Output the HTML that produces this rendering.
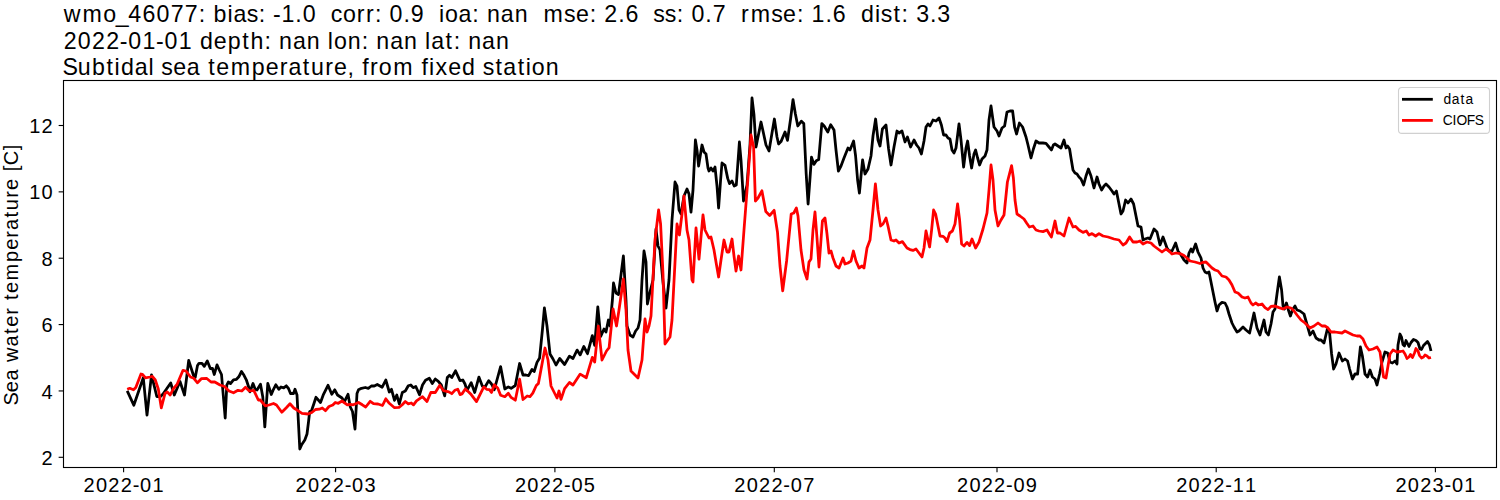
<!DOCTYPE html>
<html><head><meta charset="utf-8"><title>wmo_46077</title>
<style>html,body{margin:0;padding:0;background:#fff;width:1500px;height:500px;overflow:hidden}
svg text{font-family:'Liberation Sans', sans-serif;fill:#000}</style></head>
<body>
<svg width="1500" height="500" viewBox="0 0 1500 500" style="display:block">
<rect x="0" y="0" width="1500" height="500" fill="#fff"/>
<text x="63.80 82.43 103.26 115.66 128.24 142.38 156.52 170.65 184.79 198.83 213.46 227.47 233.49 246.74 258.85 273.02 281.52 295.34 302.72 330.67 342.92 356.87 366.01 374.96 389.61 403.43 410.81 438.96 444.97 458.58 472.36 486.98 500.82 514.68 543.46 563.93 575.90 589.71 604.36 618.18 625.56 653.19 664.77 676.87 691.52 705.34 712.72 741.07 750.66 771.14 783.11 796.91 811.56 825.38 832.76 861.01 875.02 880.67 893.39 901.49 916.14 929.96 937.34" y="22.0" font-size="23.2">wmo_46077:bias:-1.0corr:0.9ioa:nanmse:2.6ss:0.7rmse:1.6dist:3.3</text>
<text x="63.72 77.86 91.99 106.13 119.79 128.29 142.42 156.08 164.58 178.71 199.90 213.78 227.67 242.30 250.48 264.49 279.11 292.96 306.81 327.87 333.88 347.72 361.73 376.35 390.20 404.05 425.12 431.14 445.53 453.63 468.25 482.10 495.95" y="48.6" font-size="23.2">2022-01-01depth:nanlon:nanlat:nan</text>
<text x="62.42 77.79 91.89 106.52 114.61 120.88 134.74 148.51 161.22 173.20 186.84 208.29 216.26 230.70 251.79 265.68 279.67 288.45 302.85 311.02 325.22 334.03 347.62 362.33 369.97 378.75 393.15 421.59 429.04 435.47 448.23 462.12 482.68 495.39 503.33 517.72 525.81 531.82 545.66" y="75.2" font-size="23.2">Subtidalseatemperature,fromfixedstation</text>
<polyline points="127.2,390.8 133.8,405.2 143.3,377.8 147.0,415.2 151.5,374.8 156.8,396.5 160.5,396.5 163.0,394.0 170.7,383.0 174.3,395.0 180.0,381.5 184.5,395.0 188.7,360.5 193.5,375.5 195.2,377.5 197.5,365.5 199.0,363.3 202.0,363.3 204.3,366.3 207.3,361.0 210.3,368.5 212.5,368.5 214.3,374.5 217.0,364.8 219.3,370.0 221.5,374.5 225.2,418.0 226.8,385.0 228.3,382.0 230.5,383.5 233.5,379.8 236.5,379.3 238.8,376.8 241.5,371.5 244.0,375.3 246.3,379.8 248.5,386.5 250.0,391.8 253.0,383.5 255.3,389.5 257.0,390.0 260.5,384.3 262.8,397.0 264.8,426.8 267.8,383.3 271.3,394.5 273.5,389.3 275.8,384.8 278.8,389.3 281.0,387.0 283.7,387.8 286.3,385.8 288.5,388.5 290.5,393.5 293.5,393.5 295.0,389.3 297.0,395.0 299.8,449.0 301.8,444.5 304.8,440.0 307.0,434.0 308.5,422.0 309.7,411.5 311.5,410.8 313.8,404.0 316.0,397.3 320.5,402.5 323.5,394.3 328.0,385.3 331.8,394.3 334.8,389.8 337.5,395.0 342.0,398.0 344.3,401.8 348.0,394.3 350.3,407.0 352.5,411.5 355.0,429.0 357.0,393.5 358.5,389.8 361.5,388.3 365.3,387.5 368.3,388.3 371.3,386.0 374.3,386.0 377.3,384.5 382.2,387.2 385.8,380.0 389.3,392.0 391.5,389.3 394.5,400.3 396.8,395.0 399.3,404.0 402.3,392.5 405.3,391.0 408.3,385.8 410.8,385.0 413.2,387.7 415.8,386.5 419.5,394.8 422.5,385.0 425.5,380.2 429.3,378.3 432.3,383.5 435.3,379.0 438.3,381.3 441.3,385.0 444.7,395.8 447.3,377.5 449.5,375.3 451.8,377.5 455.5,370.8 460.0,380.6 462.8,380.0 465.0,384.0 467.0,390.4 471.2,382.7 474.7,392.5 478.9,377.1 482.4,386.2 485.0,387.0 488.7,380.6 491.5,384.0 494.3,389.7 497.5,378.0 500.6,366.6 504.8,389.0 508.3,386.9 511.1,388.3 515.3,385.5 519.6,363.5 523.0,375.0 525.8,375.0 528.6,375.7 532.0,369.4 534.2,371.5 537.0,362.4 539.6,358.0 542.4,330.0 544.4,308.0 547.0,326.0 550.0,354.0 553.0,359.0 556.0,365.0 559.7,358.5 564.6,364.5 569.4,356.1 573.0,358.5 577.1,350.1 580.2,354.9 583.8,346.5 587.5,353.7 592.3,335.7 594.7,345.3 597.8,306.8 600.7,336.5 604.0,329.0 606.0,332.0 608.4,320.0 610.0,326.0 612.4,300.0 613.5,283.0 616.0,293.0 618.5,294.5 623.4,256.0 626.0,300.0 627.0,326.0 630.0,335.0 633.0,337.0 635.6,331.0 638.0,328.0 640.0,320.0 642.0,280.0 644.0,251.0 646.0,262.0 647.4,304.0 650.0,292.0 653.0,280.0 656.0,229.0 658.0,246.0 660.0,250.0 663.0,282.0 666.0,308.0 669.0,280.0 672.0,220.0 675.0,182.0 677.0,186.0 679.0,210.0 681.0,214.0 684.0,196.0 687.0,189.0 689.0,194.0 691.0,212.0 693.0,190.0 695.4,140.0 697.0,150.0 698.6,166.0 702.0,145.0 704.0,152.0 706.0,154.0 708.0,168.0 709.0,171.0 711.0,168.0 713.0,171.0 715.0,167.0 717.0,186.0 718.6,208.0 720.6,180.0 722.0,163.0 725.0,165.4 727.7,178.4 729.5,183.6 732.0,181.0 734.2,186.0 736.3,185.0 739.4,142.0 741.0,160.0 743.5,201.0 747.0,185.0 750.0,145.0 752.0,98.0 754.0,115.0 756.0,147.0 761.0,122.0 763.0,131.0 766.0,145.0 769.0,151.0 772.0,133.0 774.4,119.0 777.0,137.0 778.6,144.0 781.0,141.6 785.0,132.0 787.5,140.4 790.6,118.8 793.0,99.6 795.4,114.0 797.8,126.0 801.4,121.2 803.8,123.6 806.2,174.0 808.1,204.0 809.8,181.2 811.5,157.2 813.9,164.4 816.3,160.8 818.7,159.6 821.8,123.6 824.2,126.0 827.8,132.0 830.7,124.8 834.0,130.0 836.0,150.0 838.4,171.0 841.0,166.0 844.0,158.0 848.0,148.0 850.0,150.0 853.6,141.0 855.6,156.0 857.6,180.0 859.4,193.0 861.0,176.0 862.6,160.0 865.0,174.0 868.0,169.0 871.0,156.0 873.0,136.0 875.6,119.0 878.0,140.0 880.0,146.0 882.4,129.0 886.0,125.0 888.6,149.0 891.0,165.0 894.0,147.0 897.0,131.0 899.0,133.0 902.0,131.0 905.0,142.0 907.4,137.0 910.6,147.0 914.0,140.0 916.6,145.0 919.0,148.0 921.4,154.0 924.0,141.0 926.0,127.0 928.0,124.0 930.0,126.0 933.0,120.0 936.0,121.0 939.0,118.0 941.4,125.0 943.6,135.0 946.0,135.0 948.0,138.0 950.0,139.0 952.0,150.0 954.0,153.0 956.0,148.0 959.0,124.0 961.0,140.0 963.6,167.0 966.0,148.0 967.6,141.0 969.6,156.0 971.6,168.0 974.0,154.0 975.6,150.0 977.6,158.0 979.6,165.0 982.0,159.0 985.0,156.0 987.0,150.0 989.0,120.0 991.0,106.0 992.4,116.0 994.0,127.0 997.0,131.0 999.0,136.0 1002.0,128.0 1004.6,126.0 1007.0,112.0 1010.0,111.0 1012.6,111.0 1014.6,127.0 1016.6,134.0 1019.4,123.0 1022.6,127.0 1026.0,137.0 1028.0,145.0 1031.0,158.0 1033.4,149.0 1036.0,141.0 1039.0,143.0 1043.0,143.0 1046.0,143.4 1049.0,147.0 1051.4,150.0 1053.4,145.0 1055.0,144.0 1058.0,146.0 1061.0,148.0 1064.0,140.0 1066.0,148.0 1067.6,146.0 1069.6,149.0 1071.0,158.0 1073.0,170.0 1075.0,173.0 1077.0,174.0 1079.0,177.0 1081.0,179.0 1083.6,185.0 1086.0,176.0 1088.4,169.0 1091.0,176.0 1094.0,188.0 1097.0,177.0 1099.0,184.0 1101.6,190.0 1104.0,186.0 1106.0,184.0 1109.0,187.0 1112.0,191.0 1114.0,194.0 1116.4,191.0 1119.0,204.0 1121.0,214.0 1123.0,211.0 1125.6,200.0 1128.0,203.0 1131.0,199.0 1133.6,204.0 1136.0,216.0 1138.0,226.0 1141.0,227.0 1143.0,240.0 1145.0,239.0 1148.0,238.0 1150.0,239.0 1154.0,229.0 1157.0,232.0 1160.0,245.0 1163.0,237.0 1167.0,248.0 1169.0,251.0 1172.0,251.0 1175.6,243.0 1178.0,251.0 1181.0,255.0 1184.0,260.0 1187.0,263.0 1189.0,253.0 1191.0,249.0 1192.6,252.0 1195.6,244.0 1198.0,252.0 1201.0,258.0 1203.0,268.0 1205.0,272.0 1207.0,273.0 1209.0,272.0 1213.0,292.0 1215.0,302.0 1217.0,311.0 1219.0,305.0 1222.0,302.4 1225.0,303.0 1227.0,307.0 1229.0,314.0 1232.0,323.0 1234.0,327.0 1237.0,332.0 1239.0,331.0 1243.0,327.0 1246.0,330.0 1249.6,333.0 1254.0,313.0 1257.0,328.0 1260.0,335.0 1264.0,320.0 1266.0,332.0 1268.4,335.0 1271.0,324.0 1273.0,312.0 1275.0,309.0 1277.0,294.0 1279.4,277.0 1281.6,290.0 1283.0,306.0 1284.4,309.0 1286.4,303.0 1288.4,310.0 1290.4,316.0 1292.4,310.0 1295.0,306.0 1297.0,310.0 1300.0,311.0 1304.0,314.0 1308.0,328.0 1310.0,335.0 1313.0,331.0 1316.0,338.0 1319.0,340.0 1321.0,340.0 1324.0,343.0 1327.6,328.0 1329.6,333.0 1331.6,354.0 1333.6,369.0 1336.0,364.0 1339.0,353.0 1342.4,361.0 1345.0,359.0 1347.6,361.0 1349.6,369.0 1352.4,379.0 1355.0,374.0 1357.6,374.0 1360.4,347.0 1362.4,356.0 1365.0,374.0 1367.6,377.0 1370.0,370.0 1372.4,377.0 1375.0,379.0 1377.0,385.0 1379.6,374.0 1382.0,362.0 1385.0,352.0 1387.6,353.0 1390.0,362.0 1392.4,363.0 1395.0,361.0 1397.0,364.0 1398.0,345.0 1400.0,334.0 1401.5,337.0 1403.0,344.5 1404.5,346.0 1406.0,340.5 1409.0,346.5 1411.0,342.5 1413.5,339.5 1416.0,340.5 1418.0,342.5 1420.0,349.0 1421.5,349.5 1423.5,345.5 1425.5,343.5 1427.5,341.5 1429.5,345.0 1431.0,351.0" fill="none" stroke="#000" stroke-width="2.78" stroke-linejoin="round" stroke-linecap="butt"/>
<polyline points="127.2,389.3 129.8,388.3 133.5,389.8 135.8,387.5 141.0,374.0 142.5,374.3 145.5,377.8 150.0,377.0 152.3,376.3 155.3,380.0 158.3,389.0 161.3,407.8 165.0,393.5 167.3,392.0 170.2,395.0 173.2,389.0 177.0,384.5 183.0,370.3 186.0,371.0 190.5,377.0 193.8,378.3 197.5,382.8 201.3,378.7 206.5,378.3 211.0,382.0 214.8,382.0 220.0,385.0 224.5,386.5 229.0,391.0 233.5,392.8 238.0,390.3 241.8,391.0 245.5,387.3 249.3,391.0 253.8,390.3 258.3,400.0 260.0,399.8 262.0,402.0 265.3,405.8 269.0,405.0 273.5,403.5 276.5,405.0 281.8,412.2 286.3,407.7 290.0,403.8 293.8,408.0 297.5,410.3 302.0,413.3 308.0,414.0 311.8,412.5 315.5,409.5 319.3,409.2 322.3,408.0 325.5,410.7 329.0,406.5 332.8,405.0 335.3,402.5 338.3,403.3 342.0,401.0 347.3,404.8 350.3,404.3 353.3,404.8 358.5,402.5 362.3,404.8 365.7,407.0 370.2,401.3 373.5,403.7 378.0,404.0 382.5,405.5 385.8,398.8 389.3,403.3 394.5,407.7 399.0,407.3 402.0,405.0 405.3,401.5 408.3,403.8 411.3,403.0 413.5,404.8 416.5,400.8 422.5,396.7 427.0,401.5 430.8,392.5 435.3,392.5 439.8,385.3 443.5,390.7 448.8,391.8 451.8,393.7 454.8,390.3 457.8,389.2 460.0,394.6 462.0,393.9 465.3,389.0 468.4,391.8 471.2,394.6 476.5,401.6 479.6,395.3 483.8,386.9 486.6,389.3 489.4,389.7 491.5,392.5 494.3,384.8 497.8,388.3 500.6,395.3 504.8,396.7 508.3,393.2 511.1,397.4 515.3,400.2 519.6,379.2 523.0,399.5 527.2,396.0 530.0,396.7 532.8,393.2 536.3,385.5 538.4,383.4 540.0,375.0 542.4,362.0 545.0,348.0 548.0,360.0 551.0,386.0 554.0,392.0 557.0,398.0 559.0,391.0 561.0,399.4 564.6,388.6 569.4,382.5 573.0,385.0 580.2,374.1 586.3,377.7 592.3,357.3 594.7,362.1 598.3,326.1 602.0,360.0 606.5,351.0 609.1,347.7 613.1,309.0 616.5,326.0 619.0,310.0 623.4,279.0 626.0,310.0 628.0,350.0 631.0,371.0 635.0,375.0 638.0,378.0 642.0,360.0 645.0,319.0 647.0,332.0 649.0,326.0 651.0,316.0 655.0,240.0 658.6,210.0 660.6,224.0 663.0,274.0 665.0,344.0 670.0,337.0 672.0,320.0 677.0,224.0 679.4,235.0 682.0,214.0 684.0,196.0 687.0,230.0 689.0,240.0 692.0,280.0 693.0,282.0 696.0,228.0 699.0,259.0 703.0,215.0 705.0,230.0 709.0,238.0 711.0,237.0 714.0,250.0 716.0,262.0 718.6,277.0 721.0,260.0 724.0,240.0 727.0,252.0 729.0,252.0 732.0,239.0 734.0,256.0 736.0,271.0 738.6,256.0 741.0,270.0 744.0,230.0 747.6,183.0 751.0,135.0 753.6,147.0 755.4,201.0 758.0,198.0 761.9,190.8 765.8,211.6 769.7,215.5 774.1,210.3 777.5,232.3 780.0,266.0 782.7,290.8 786.6,261.0 791.2,214.0 793.8,213.0 796.4,208.0 798.0,216.0 801.0,250.0 804.0,270.0 807.0,279.0 809.0,262.0 811.0,259.0 813.0,230.0 815.0,212.0 817.0,238.0 819.0,267.0 821.0,240.0 822.4,221.0 825.0,218.0 827.0,234.0 829.0,253.0 831.0,251.0 833.0,258.0 836.0,266.0 839.0,268.0 843.0,258.0 845.0,264.0 848.0,263.0 851.0,261.0 853.4,251.0 856.0,261.0 859.0,268.0 862.0,266.0 864.0,268.0 867.0,248.0 870.0,240.0 873.0,210.0 875.4,184.0 878.0,210.0 880.6,226.0 883.0,224.0 886.0,218.0 888.0,226.0 891.0,240.0 894.0,241.0 896.0,240.0 899.0,243.0 902.4,241.6 907.0,248.0 910.0,249.6 913.0,250.4 916.0,249.0 919.0,253.0 922.0,257.0 924.0,248.0 926.0,231.0 929.6,247.0 931.6,230.0 933.6,210.0 935.6,214.0 938.0,226.0 940.0,236.0 943.0,236.4 945.0,238.0 947.0,241.6 949.6,233.0 952.4,231.0 955.0,224.0 957.6,204.0 959.6,220.0 961.6,244.0 964.0,246.0 967.0,242.4 969.6,245.6 972.0,239.0 975.6,248.0 979.0,242.0 983.0,229.0 987.0,213.0 989.0,190.0 991.0,165.0 993.0,180.0 995.0,210.0 998.0,226.0 1001.0,220.0 1004.0,215.0 1007.4,182.0 1011.6,165.6 1013.4,178.0 1015.0,200.0 1017.0,214.0 1020.0,216.0 1024.0,219.0 1026.6,223.0 1029.4,227.0 1033.0,226.0 1036.0,230.0 1039.0,231.0 1043.0,231.6 1047.0,230.0 1049.4,234.0 1051.4,237.0 1055.0,221.0 1057.4,233.0 1060.0,233.0 1064.0,236.0 1069.0,218.0 1073.0,227.0 1075.6,226.4 1079.0,230.0 1083.0,232.4 1086.4,231.0 1089.0,235.0 1092.0,233.6 1095.6,236.0 1099.0,233.6 1103.0,236.0 1108.0,237.0 1114.0,239.0 1119.0,240.0 1123.0,245.0 1126.0,243.0 1129.6,237.0 1133.0,242.0 1137.0,242.0 1140.0,241.0 1143.0,244.0 1147.0,242.0 1151.0,243.0 1154.0,246.0 1158.0,249.0 1162.0,252.0 1166.0,249.0 1169.0,251.0 1172.0,254.0 1176.0,253.0 1180.0,253.6 1184.0,255.6 1187.0,258.0 1190.0,261.0 1195.0,262.0 1200.0,263.5 1203.0,262.4 1206.0,262.0 1209.0,265.0 1212.0,268.0 1215.0,270.0 1218.0,271.0 1222.0,276.0 1226.0,277.0 1229.0,280.0 1232.0,285.0 1235.0,292.0 1238.0,293.0 1242.0,297.0 1245.0,298.0 1248.0,297.0 1251.0,303.0 1253.0,305.0 1255.6,303.0 1258.4,305.0 1262.0,304.0 1265.0,307.6 1268.0,309.6 1271.0,306.4 1275.0,306.0 1279.0,307.6 1283.0,309.0 1287.0,307.0 1291.0,308.0 1294.0,311.0 1297.0,315.0 1301.0,320.0 1305.0,323.0 1308.0,326.0 1310.0,328.0 1314.0,326.0 1318.0,323.0 1322.0,326.0 1325.0,326.0 1328.0,328.0 1331.0,332.0 1335.0,332.0 1339.0,332.6 1342.0,333.0 1345.0,331.0 1349.0,333.0 1353.0,335.0 1357.0,336.0 1360.0,336.0 1363.0,339.0 1366.0,346.0 1369.0,350.0 1373.0,349.0 1377.0,347.0 1380.0,352.0 1382.0,366.0 1383.6,377.0 1386.0,378.0 1388.0,366.0 1390.0,354.0 1393.0,350.0 1397.0,352.0 1400.5,351.5 1403.0,351.0 1405.0,354.0 1407.0,358.5 1409.0,357.0 1410.5,354.5 1412.5,357.5 1414.5,353.0 1416.0,348.5 1418.0,351.0 1419.5,355.5 1421.5,358.0 1423.5,357.0 1425.0,355.0 1427.0,356.0 1429.0,358.0 1431.0,357.5" fill="none" stroke="#f00" stroke-width="2.78" stroke-linejoin="round" stroke-linecap="butt"/>
<rect x="63.5" y="80.5" width="1433.0" height="387.0" fill="none" stroke="#000" stroke-width="1.11"/>
<line x1="58.64" x2="63.5" y1="457.30" y2="457.30" stroke="#000" stroke-width="1.11"/>
<text x="41.56" y="464.90" font-size="20.0">2</text>
<line x1="58.64" x2="63.5" y1="390.94" y2="390.94" stroke="#000" stroke-width="1.11"/>
<text x="41.56" y="398.54" font-size="20.0">4</text>
<line x1="58.64" x2="63.5" y1="324.58" y2="324.58" stroke="#000" stroke-width="1.11"/>
<text x="41.56" y="332.18" font-size="20.0">6</text>
<line x1="58.64" x2="63.5" y1="258.22" y2="258.22" stroke="#000" stroke-width="1.11"/>
<text x="41.56" y="265.82" font-size="20.0">8</text>
<line x1="58.64" x2="63.5" y1="191.86" y2="191.86" stroke="#000" stroke-width="1.11"/>
<text x="29.19 41.56" y="199.46" font-size="20.0">10</text>
<line x1="58.64" x2="63.5" y1="125.50" y2="125.50" stroke="#000" stroke-width="1.11"/>
<text x="29.19 41.56" y="133.10" font-size="20.0">12</text>
<line x1="123.6" x2="123.6" y1="467.5" y2="472.36" stroke="#000" stroke-width="1.11"/>
<text x="83.61 95.98 108.35 120.72 132.64 140.10 152.47" y="491.9" font-size="20.0">2022-01</text>
<line x1="335.6" x2="335.6" y1="467.5" y2="472.36" stroke="#000" stroke-width="1.11"/>
<text x="295.61 307.98 320.35 332.72 344.64 352.10 364.47" y="491.9" font-size="20.0">2022-03</text>
<line x1="554.9" x2="554.9" y1="467.5" y2="472.36" stroke="#000" stroke-width="1.11"/>
<text x="514.91 527.28 539.65 552.02 563.94 571.40 583.77" y="491.9" font-size="20.0">2022-05</text>
<line x1="774.3" x2="774.3" y1="467.5" y2="472.36" stroke="#000" stroke-width="1.11"/>
<text x="734.31 746.68 759.05 771.42 783.34 790.80 803.17" y="491.9" font-size="20.0">2022-07</text>
<line x1="997.0" x2="997.0" y1="467.5" y2="472.36" stroke="#000" stroke-width="1.11"/>
<text x="957.01 969.38 981.75 994.12 1006.04 1013.50 1025.87" y="491.9" font-size="20.0">2022-09</text>
<line x1="1216.2" x2="1216.2" y1="467.5" y2="472.36" stroke="#000" stroke-width="1.11"/>
<text x="1176.21 1188.58 1200.95 1213.32 1225.24 1232.70 1245.07" y="491.9" font-size="20.0">2022-11</text>
<line x1="1435.4" x2="1435.4" y1="467.5" y2="472.36" stroke="#000" stroke-width="1.11"/>
<text x="1395.41 1407.78 1420.15 1432.52 1444.44 1451.90 1464.27" y="491.9" font-size="20.0">2023-01</text>
<g transform="translate(18.3,405.1) rotate(-90)">
<text x="-0.50 12.76 24.69 43.11 58.68 71.23 78.25 90.46 104.99 112.00 124.68 143.09 155.24 167.45 175.16 187.71 194.90 207.30 215.04 233.77 239.91 254.93" y="0" font-size="20.0">Seawatertemperature[C]</text>
</g>
<rect x="1398.5" y="87.5" width="91" height="45.9" rx="3.5" fill="#fff" fill-opacity="0.8" stroke="#d0d0d0" stroke-width="1.11"/>
<line x1="1402" x2="1432.8" y1="99.3" y2="99.3" stroke="#000" stroke-width="2.78"/>
<line x1="1402" x2="1432.8" y1="120.4" y2="120.4" stroke="#f00" stroke-width="2.78"/>
<text x="1443.38 1451.86 1460.62 1465.52" y="103.8" font-size="13.8">data</text>
<text x="1442.67 1452.49 1456.39 1466.81 1474.65" y="124.8" font-size="13.8">CIOFS</text>
</svg>
</body></html>
